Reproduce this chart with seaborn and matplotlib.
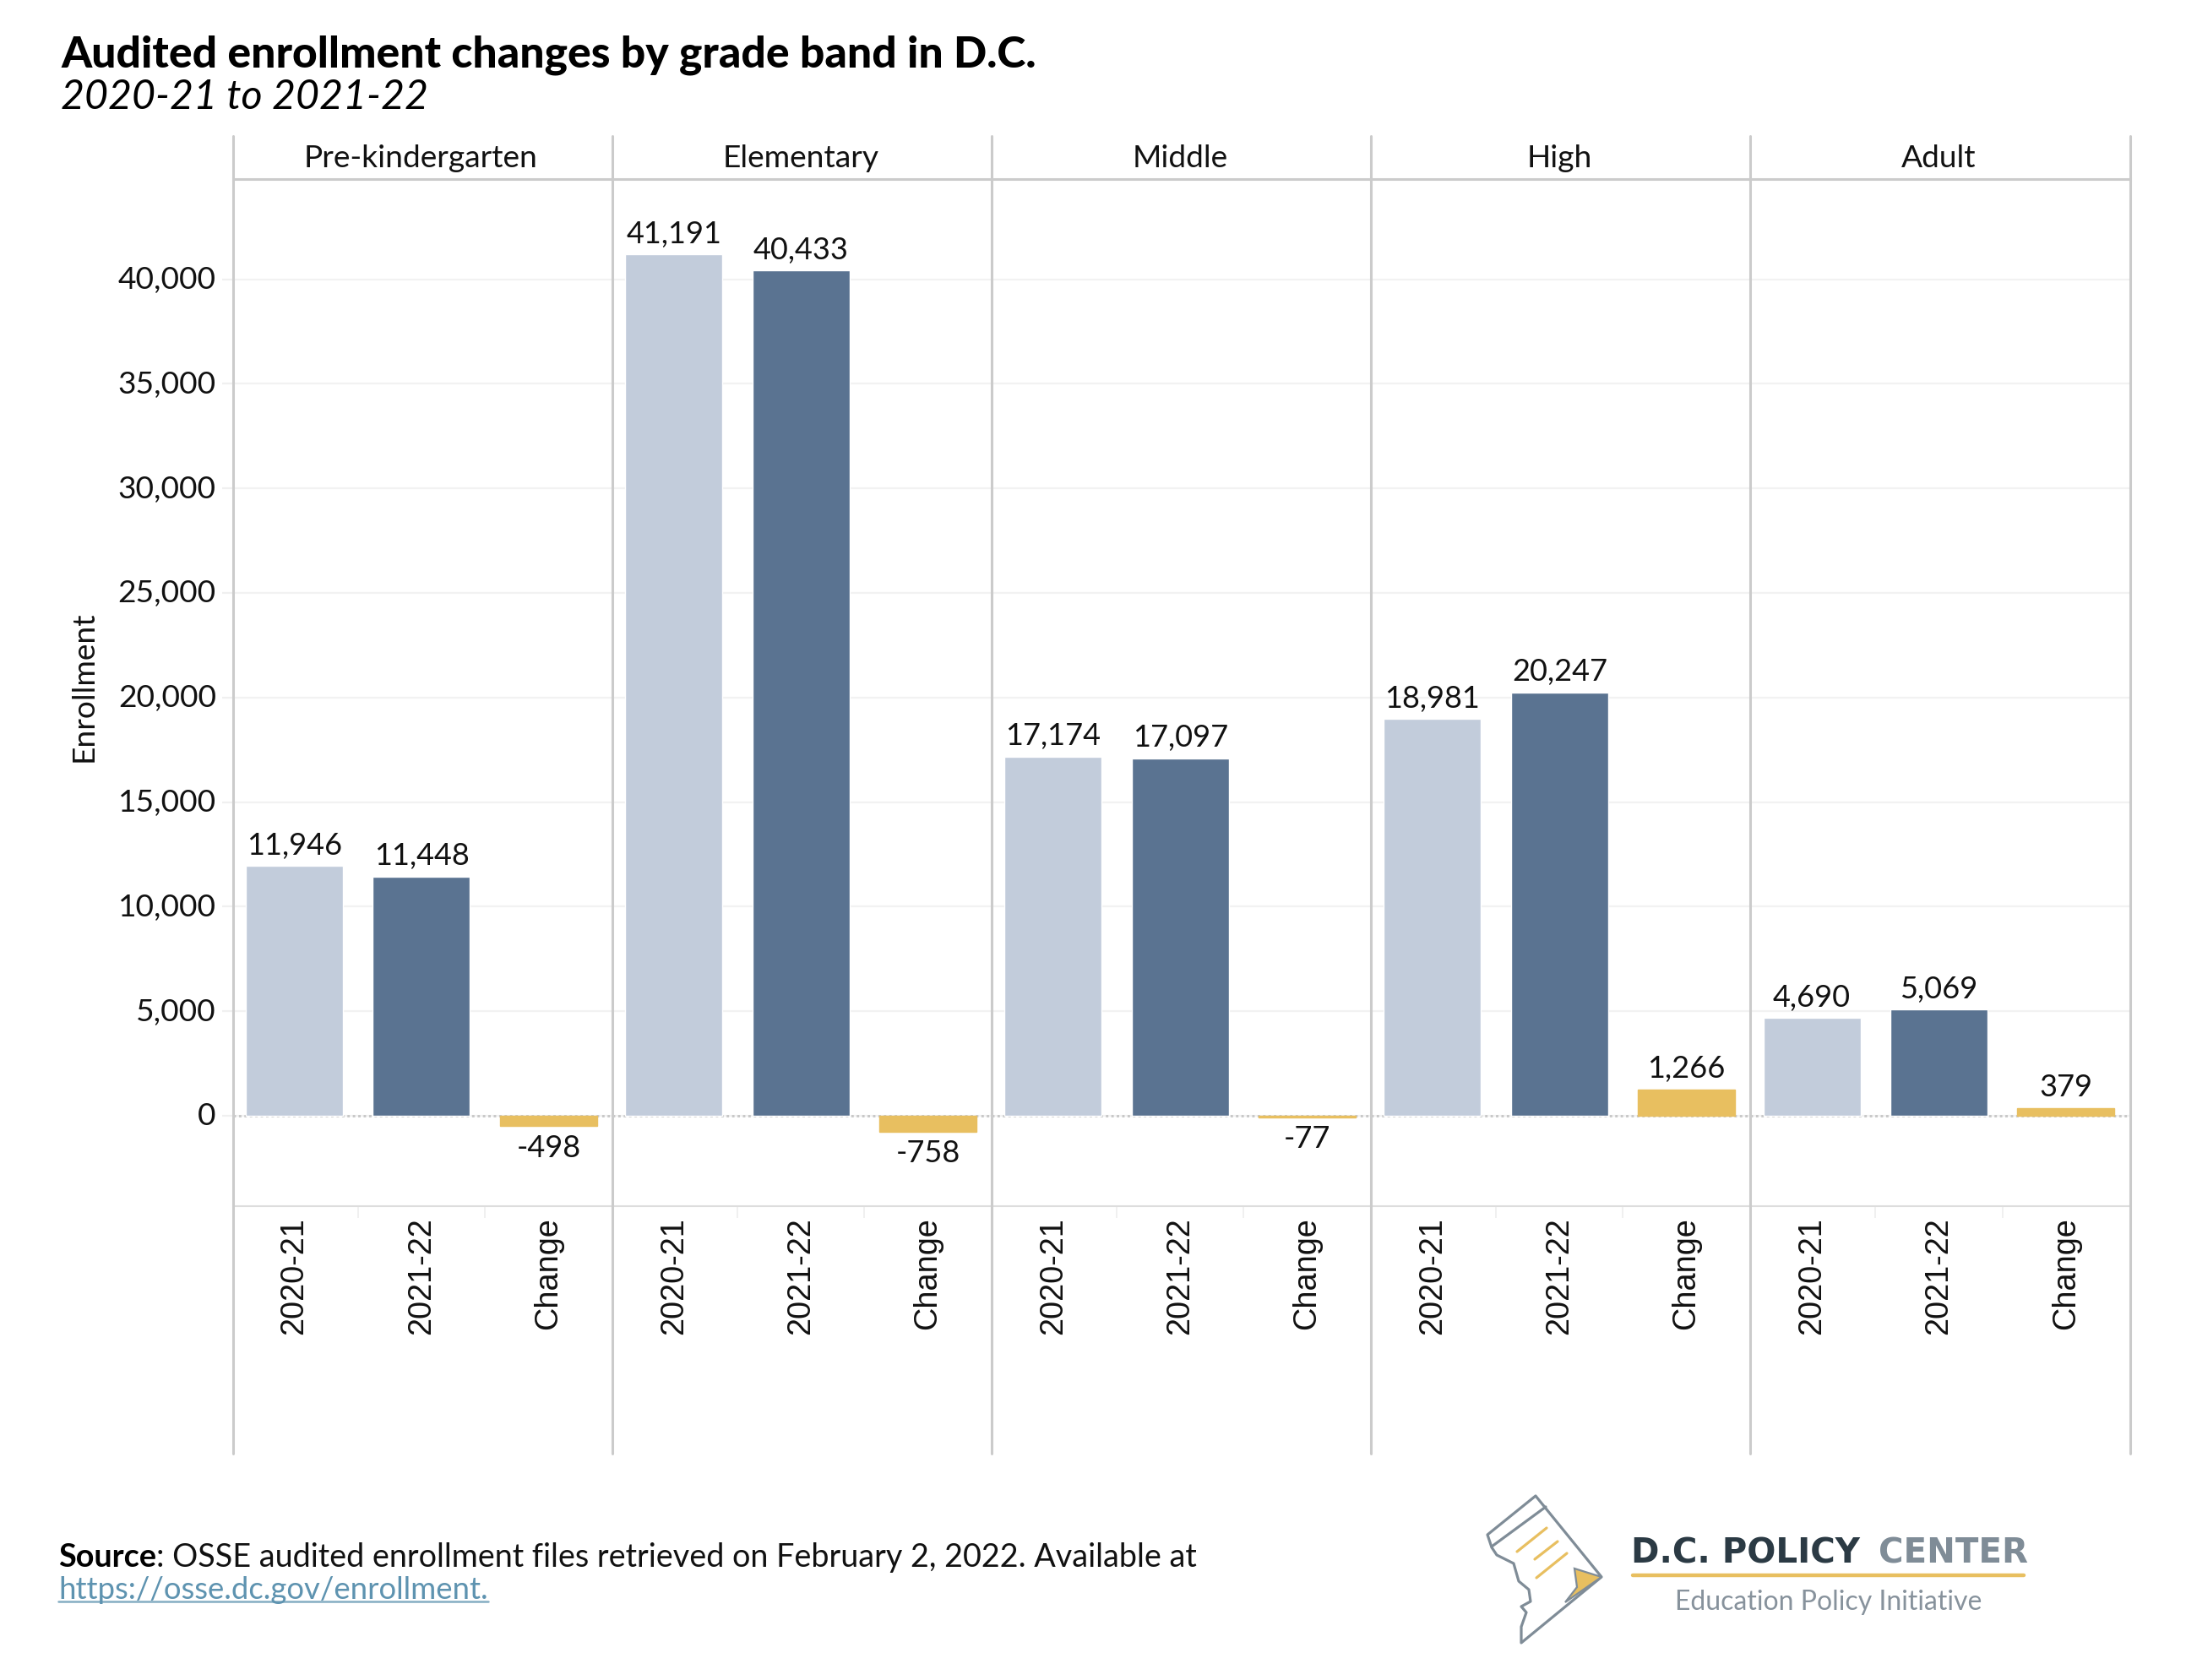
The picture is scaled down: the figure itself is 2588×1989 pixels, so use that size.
import matplotlib
matplotlib.use("Agg")
import matplotlib.pyplot as plt
from matplotlib.lines import Line2D
from matplotlib.patches import Polygon
from matplotlib.transforms import Affine2D, ScaledTranslation
import pandas as pd
import seaborn as sns

bands = ["Pre-kindergarten", "Elementary", "Middle", "High", "Adult"]
measures = ["2020-21", "2021-22", "Change"]
year_2020_21 = [11946, 41191, 17174, 18981, 4690]
year_2021_22 = [11448, 40433, 17097, 20247, 5069]
change = [-498, -758, -77, 1266, 379]
y_ticks = [0, 5000, 10000, 15000, 20000, 25000, 30000, 35000, 40000]
bar_colors = ["#c2ccdb", "#5a7391", "#e8bf60"]

W, H = 2588, 1990
sns.set_theme(style="white")
plt.rcParams["font.family"] = ["Lato", "DejaVu Sans"]
fig = plt.figure(figsize=(W / 100, H / 100), dpi=100, facecolor="white")
px = Affine2D().scale(1 / W, -1 / H).translate(0, 1) + fig.transFigure

LEFT, PANEL_W, TOP, BOTTOM = 276, 449.1, 213, 1429
TXT = "#111111"
LINE = "#cbcbcb"
df = pd.DataFrame({"band": [b for b in bands for _ in measures],
                   "measure": measures * len(bands),
                   "value": [v for t in zip(year_2020_21, year_2021_22, change) for v in t]})

for i, band in enumerate(bands):
    ax = fig.add_axes([(LEFT + i * PANEL_W) / W, 1 - BOTTOM / H, PANEL_W / W, (BOTTOM - TOP) / H])
    sub = df[df.band == band]
    sns.barplot(data=sub, x="measure", y="value", hue="measure", order=measures, hue_order=measures,
                palette=bar_colors, width=0.765, legend=False, saturation=1, ax=ax, zorder=3)
    for patch in ax.patches:
        if patch.get_facecolor()[:3] == matplotlib.colors.to_rgb(bar_colors[2]):
            patch.set_edgecolor(bar_colors[2])
            patch.set_linewidth(1.0)
    ax.set_xlim(-0.483, 2.504)
    ax.set_ylim(-4322, 44790)
    ax.set_yticks(y_ticks)
    ax.grid(axis="y", color="#f2f2f2", lw=1.6, zorder=0)
    ax.set_axisbelow(True)
    ax.axhline(0, color="#c8c8c8", lw=2.1, ls=(0, (1, 1.2)), zorder=2)
    ax.set_xlabel("")
    ax.set_ylabel("")
    ax.set_xticks(range(3))
    ax.set_xticklabels(measures, rotation=90, family="Liberation Sans", fontsize=27.3, color=TXT)
    ax.set_xticks([0.5, 1.5], minor=True)
    ax.tick_params(axis="x", which="major", length=0, pad=9)
    ax.tick_params(axis="x", which="minor", length=10, width=1.2, color="#eeeeee", bottom=True)
    for s in ax.spines.values():
        s.set_visible(False)
    ax.spines["bottom"].set_visible(True)
    ax.spines["bottom"].set_color("#dddddd")
    ax.spines["bottom"].set_linewidth(1.5)
    ax.spines["top"].set_visible(True)
    ax.spines["top"].set_color(LINE)
    ax.spines["top"].set_linewidth(2.2)
    if i == 0:
        ax.set_yticklabels([f"{t:,}" for t in y_ticks], fontsize=26.7, color=TXT)
        ax.tick_params(axis="y", length=9.5, width=1.6, color="#f0f0f0", pad=5, left=True)
        for lab in ax.get_yticklabels():
            lab.set_transform(lab.get_transform() + ScaledTranslation(0, 3 / 100, fig.dpi_scale_trans))
    else:
        ax.tick_params(axis="y", length=0, labelleft=False)
    for j, v in enumerate(sub["value"]):
        offset = 6 if v >= 0 else -6
        ax.annotate(f"{v:,}", (j, v), xytext=(0, offset), textcoords="offset points",
                    ha="center", va="bottom" if v >= 0 else "top", fontsize=26, color=TXT)
    fig.text((LEFT + i * PANEL_W + PANEL_W / 2 - 2) / W, 1 - 188 / H, band,
             ha="center", va="center", fontsize=26.7, color=TXT)

for i in range(len(bands) + 1):
    x = LEFT + i * PANEL_W
    fig.add_artist(Line2D([x, x], [162, 1722], transform=px, color=LINE, lw=2.2))

fig.text(99 / W, 1 - 813 / H, "Enrollment", rotation=90, ha="center", va="center", fontsize=26.7, color=TXT)

# title
fig.text(72 / W, 1 - 65 / H, "Audited enrollment changes by grade band in D.C.", fontsize=37.2, fontweight="black",
         color="black", ha="left", va="center")
fig.text(72 / W, 1 - 115 / H, "2020-21 to 2021-22", fontsize=34.8, fontstyle="italic",
         color="black", ha="left", va="center")

# source
t = fig.text(69 / W, 1 - 1844 / H, "Source", fontsize=27.2, fontweight="bold", color="black", va="center")
fig.canvas.draw()
bb = t.get_window_extent()
fig.text(bb.x1 / W, 1 - 1844 / H, ": OSSE audited enrollment files retrieved on February 2, 2022. Available at",
         fontsize=27.2, color=TXT, va="center")
u = fig.text(69 / W, 1 - 1883 / H, "https://osse.dc.gov/enrollment.", fontsize=26.3, color="#5e93b0", va="center")
ub = u.get_window_extent()
fig.add_artist(Line2D([ub.x0 / W, ub.x1 / W], [1 - 1897 / H, 1 - 1897 / H], color="#85adc3", lw=1.8))

# logo
GR = "#7f8c97"
outline = [(1818, 1772), (1896, 1868), (1801, 1946), (1801, 1927), (1807, 1910), (1801, 1903), (1812, 1897),
           (1810, 1883), (1798, 1873), (1792, 1852), (1772, 1842), (1766, 1833), (1761, 1818)]
fig.add_artist(Polygon(outline, closed=True, transform=px, fc="white", ec=GR, lw=2.3, joinstyle="round"))
fig.add_artist(Line2D([1830, 1766], [1785, 1832], transform=px, color=GR, lw=2.3))
for a, b in [((1831, 1810), (1796, 1838)), ((1844, 1826), (1817, 1847)), ((1855, 1840), (1819, 1869))]:
    fig.add_artist(Line2D([a[0], b[0]], [a[1], b[1]], transform=px, color="#e8bf60", lw=2.3, solid_capstyle="round"))
fig.add_artist(Polygon([(1864, 1858), (1896, 1868), (1853, 1898), (1867, 1880)], closed=True, transform=px,
                       fc="#e8bf60", ec=GR, lw=1.6))
fig.text(1931 / W, 1 - 1840 / H, "D.C. POLICY", fontsize=29, fontweight="bold", family="DejaVu Sans",
         color="#2b3a44", va="center")
fig.text(2224 / W, 1 - 1840 / H, "CENTER", fontsize=29, fontweight="bold", family="DejaVu Sans",
         color="#7f8c97", va="center")
fig.add_artist(Line2D([1933, 2396], [1866, 1866], transform=px, color="#e8bf60", lw=3.2))
fig.text(2165 / W, 1 - 1897 / H, "Education Policy Initiative", fontsize=23, color="#87929c", ha="center", va="center")

fig.savefig("out.png", dpi=100, facecolor="white")
